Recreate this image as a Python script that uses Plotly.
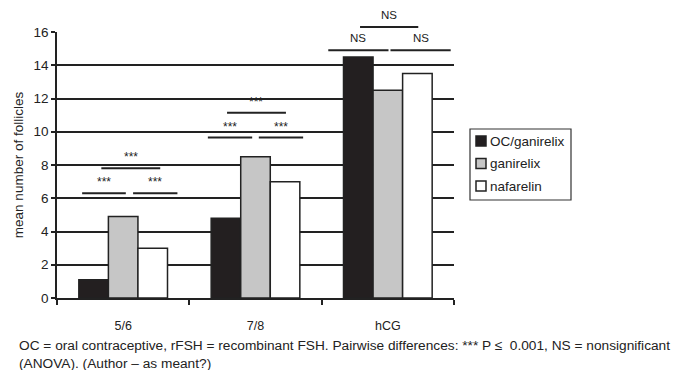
import plotly.graph_objects as go

categories = ["5/6", "7/8", "hCG"]
series_names = ["OC/ganirelix", "ganirelix", "nafarelin"]
oc_ganirelix = [1.1, 4.8, 14.5]
ganirelix = [4.9, 8.5, 12.5]
nafarelin = [3.0, 7.0, 13.5]

# significance brackets: (category index, y value, label)
bracket_cats = [0, 0, 0, 1, 1, 1, 2, 2, 2]
bracket_vals = [6.3, 6.3, 7.8, 9.65, 9.65, 11.15, 14.9, 14.9, 16.3]
bracket_labels = ["***", "***", "***", "***", "***", "***", "NS", "NS", "NS"]

YMAX = 16
DARK = "#222222"
FONT = "Liberation Sans, Arial, sans-serif"

fills = ["#231f20", "#c6c6c6", "#ffffff"]
values = [oc_ganirelix, ganirelix, nafarelin]

fig = go.Figure()
for name, vals, col in zip(series_names, values, fills):
    fig.add_trace(go.Bar(
        x=categories, y=vals, name=name, showlegend=False,
        marker=dict(color=col, line=dict(color=DARK, width=1.5)),
    ))

# horizontal extents of brackets (offsets from category centre, category units)
extents = [(-0.31, 0.02), (0.075, 0.41), (-0.165, 0.28),
           (-0.36, -0.025), (0.025, 0.36), (-0.215, 0.23),
           (-0.45, 0.005), (0.02, 0.475), (-0.21, 0.23)]

shapes = []
annotations = []
for (ci, v, lab, (a, b)) in zip(bracket_cats, bracket_vals, bracket_labels, extents):
    yp = v / YMAX
    shapes.append(dict(type="line", xref="x", yref="paper",
                       x0=ci + a, x1=ci + b, y0=yp, y1=yp,
                       line=dict(color=DARK, width=2)))
    is_star = lab == "***"
    annotations.append(dict(
        x=ci + (a + b) / 2, y=yp, xref="x", yref="paper",
        text=lab, showarrow=False, yanchor="bottom",
        yshift=2 if is_star else 4,
        font=dict(size=12 if is_star else 11.5, color=DARK, family=FONT),
    ))

# custom legend (pixel layout converted to paper coords)
PL, PR, PT, PB = 57, 454, 32, 298


def px(x):
    return (x - PL) / (PR - PL)


def py(y):
    return (PB - y) / (PB - PT)


shapes.append(dict(type="rect", xref="paper", yref="paper",
                   x0=px(470), x1=px(571), y0=py(129), y1=py(200),
                   line=dict(color="#333333", width=1.2), fillcolor="white"))
for i, (name, col) in enumerate(zip(series_names, fills)):
    cy = 141 + i * 22.5
    shapes.append(dict(type="rect", xref="paper", yref="paper",
                       x0=px(476), x1=px(486), y0=py(cy - 5), y1=py(cy + 5),
                       line=dict(color=DARK, width=1.5), fillcolor=col))
    annotations.append(dict(xref="paper", yref="paper", x=px(488), y=py(cy),
                            xanchor="left", yanchor="middle", showarrow=False,
                            text=name, font=dict(size=13.5, color=DARK, family=FONT)))

annotations.append(dict(
    xref="paper", yref="paper", x=px(17), y=py(336),
    xanchor="left", yanchor="top", align="left", showarrow=False,
    text="OC = oral contraceptive, rFSH = recombinant FSH. Pairwise differences: *** P \u2264  0.001, NS = nonsignificant<br>(ANOVA). (Author \u2013 as meant?)",
    font=dict(size=13.7, color=DARK, family=FONT),
))

fig.update_layout(
    width=674, height=370,
    margin=dict(l=PL, r=674 - PR, t=PT, b=370 - PB),
    paper_bgcolor="white", plot_bgcolor="white",
    barmode="group", bargap=0.33, bargroupgap=0,
    font=dict(family=FONT, size=12, color=DARK),
    shapes=shapes, annotations=annotations,
    showlegend=False,
    xaxis=dict(showline=True, linecolor=DARK, linewidth=1.5,
               ticks="outside", tickson="boundaries", ticklen=5,
               tickcolor=DARK, tickwidth=1.5, showgrid=False,
               ticklabelstandoff=15, tickfont=dict(size=12.5)),
    yaxis=dict(range=[0, YMAX], dtick=2, showline=True, linecolor=DARK,
               linewidth=1.5, ticks="outside", ticklen=4, tickcolor=DARK,
               tickwidth=1.5, showgrid=True, gridcolor=DARK, gridwidth=1.5,
               zeroline=False, tickfont=dict(size=13.5),
               title=dict(text="mean number of follicles", font=dict(size=13.5),
                          standoff=7)),
)

fig.write_html("out.html")
